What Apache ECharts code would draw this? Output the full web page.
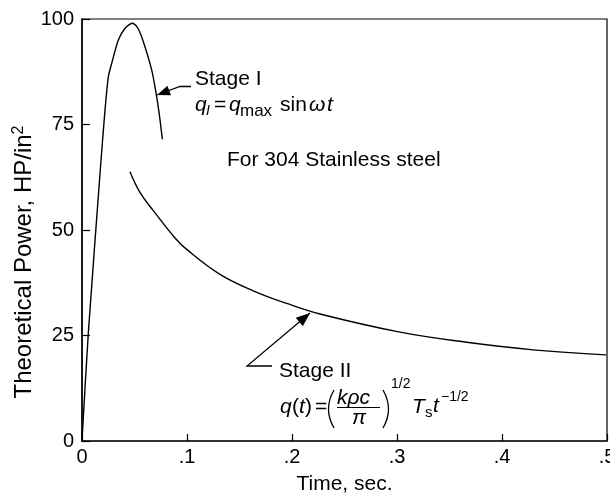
<!DOCTYPE html>
<html>
<head>
<meta charset="utf-8">
<script src="https://cdn.jsdelivr.net/npm/echarts@6/dist/echarts.min.js"></script>
<style>
  html, body { margin: 0; padding: 0; background: #fff; }
  #main { width: 610px; height: 495px; }
</style>
</head>
<body>
<div id="main"></div>
<script>
// values
var stage1Time  = [0, 0.006, 0.0175, 0.0219, 0.0251, 0.0283, 0.0346, 0.041, 0.0479, 0.052, 0.0568, 0.0664, 0.0711, 0.0743, 0.0765];
var stage1Power = [0, 25.5, 64.5, 78.4, 86.3, 89.5, 95.0, 97.8, 99.0, 98.3, 95.8, 87.9, 81.6, 76.1, 71.5];
var stage2Time  = [0.0457, 0.0552, 0.0679, 0.0886, 0.0997, 0.1314, 0.1631, 0.195, 0.2267, 0.3029, 0.3664, 0.4298, 0.499];
var stage2Power = [63.8, 58.9, 54.6, 48.1, 45.4, 39.5, 35.6, 32.6, 30.1, 25.8, 23.4, 21.6, 20.4];
var xTickLabels = ['0', '.1', '.2', '.3', '.4', '.5'];
var yTickLabels = ['0', '25', '50', '75', '100'];

var FONT = "'Liberation Sans', Arial, Helvetica, sans-serif";

function pairs(xs, ys) {
    var out = [];
    for (var i = 0; i < xs.length; i++) out.push([xs[i], ys[i]]);
    return out;
}

// arrow head triangle at the end of a leader line
function arrowHead(from, tip, len, half) {
    var dx = tip[0] - from[0], dy = tip[1] - from[1];
    var d = Math.sqrt(dx * dx + dy * dy);
    dx /= d; dy /= d;
    var bx = tip[0] - dx * len, by = tip[1] - dy * len;
    return [tip, [bx - dy * half, by + dx * half], [bx + dy * half, by - dx * half]];
}

function txt(x, y, s, size, italic) {
    return {
        type: 'text', x: x, y: y, z: 10,
        style: {
            text: s, fill: '#000', fontFamily: FONT, fontSize: size,
            fontStyle: italic ? 'italic' : 'normal',
            align: 'left', verticalAlign: 'middle'
        }
    };
}

function paren(x, y1, y2, bulge) {
    return {
        type: 'bezierCurve', z: 10,
        shape: { x1: x, y1: y1, x2: x, y2: y2, cpx1: x + bulge, cpy1: (y1 + y2) / 2 },
        style: { stroke: '#000', lineWidth: 1.3, fill: null }
    };
}

var lead1 = [[191, 86.5], [180, 86.5], [157, 95]];
var lead2 = [[272, 366], [247, 366], [310, 313]];

var graphics = [
    { type: 'polyline', z: 10, shape: { points: lead1 }, style: { stroke: '#000', lineWidth: 1.3, fill: null } },
    { type: 'polygon', z: 10, shape: { points: arrowHead(lead1[1], lead1[2], 13, 5) }, style: { fill: '#000' } },
    { type: 'polyline', z: 10, shape: { points: lead2 }, style: { stroke: '#000', lineWidth: 1.3, fill: null } },
    { type: 'polygon', z: 10, shape: { points: arrowHead(lead2[1], lead2[2], 14, 5.5) }, style: { fill: '#000' } },

    // y axis title
    {
        type: 'text', x: 24, y: 262, rotation: Math.PI / 2, z: 10,
        style: {
            text: 'Theoretical Power, HP/in{sup|2}', fill: '#000',
            fontFamily: FONT, fontSize: 24, align: 'center', verticalAlign: 'middle',
            rich: { sup: { fontSize: 16, fontFamily: FONT, fill: '#000', verticalAlign: 'top', padding: [0, 0, 10, 0] } }
        }
    },

    // stage I
    txt(195, 79, 'Stage I', 21),
    txt(195, 105, 'q', 21, true),
    txt(206, 111, 'I', 14, true),
    txt(214, 105, '=', 21),
    txt(229, 105, 'q', 21, true),
    txt(240, 111, 'max', 17),
    txt(280, 105, 'sin', 21),
    txt(309, 105, '\u03c9', 21, true),
    txt(327, 105, 't', 21, true),

    txt(227, 160, 'For 304 Stainless steel', 21),

    // stage II
    txt(279, 371, 'Stage II', 21),
    txt(280, 407, 'q', 21, true),
    txt(292, 407, '(', 21),
    txt(299, 407, 't', 21, true),
    txt(305, 407, ')', 21),
    txt(315, 407, '=', 21),
    paren(334, 390, 428, -11),
    txt(337, 398, 'k\u03c1c', 21, true),
    { type: 'line', z: 10, shape: { x1: 337, y1: 407.5, x2: 380, y2: 407.5 }, style: { stroke: '#000', lineWidth: 1.2 } },
    txt(352, 418, '\u03c0', 21, true),
    paren(383, 390, 428, 11),
    txt(391, 384, '1/2', 14),
    txt(412, 407, 'T', 21, true),
    txt(425, 413, 's', 15),
    txt(433, 406, 't', 21, true),
    txt(441, 397, '\u22121/2', 14)
];

var chart = echarts.init(document.getElementById('main'));
var option = {
    animation: false,
    backgroundColor: '#fff',
    grid: {
        left: 82, right: 3, top: 19, bottom: 54,
        show: true, borderColor: '#000', borderWidth: 1.2,
        outerBoundsMode: 'none'
    },
    xAxis: {
        type: 'value', min: 0, max: 0.5, interval: 0.1,
        name: 'Time, sec.', nameLocation: 'middle', nameGap: 33,
        nameTextStyle: { color: '#000', fontSize: 21, fontFamily: FONT },
        axisLine: { show: true, lineStyle: { color: '#333', width: 2 } },
        axisTick: { show: true, inside: true, length: 7, lineStyle: { color: '#000', width: 1.2 } },
        axisLabel: {
            color: '#000', fontSize: 20, fontFamily: FONT, margin: 6,
            formatter: function (v) { return xTickLabels[Math.round(v * 10)]; }
        },
        splitLine: { show: false }
    },
    yAxis: {
        type: 'value', min: 0, max: 100, interval: 25,
        axisLine: { show: true, lineStyle: { color: '#000', width: 1.5 } },
        axisTick: { show: true, inside: true, length: 8, lineStyle: { color: '#000', width: 1.2 } },
        axisLabel: {
            color: '#000', fontSize: 20, fontFamily: FONT, margin: 8,
            formatter: function (v) { return yTickLabels[Math.round(v / 25)]; }
        },
        splitLine: { show: false }
    },
    series: [
        {
            name: 'Stage I', type: 'line', data: pairs(stage1Time, stage1Power),
            showSymbol: false, smooth: 0.25,
            lineStyle: { color: '#000', width: 1.4 }
        },
        {
            name: 'Stage II', type: 'line', data: pairs(stage2Time, stage2Power),
            showSymbol: false, smooth: 0.4,
            lineStyle: { color: '#000', width: 1.4 }
        }
    ],
    graphic: graphics
};
chart.setOption(option);
</script>
</body>
</html>
